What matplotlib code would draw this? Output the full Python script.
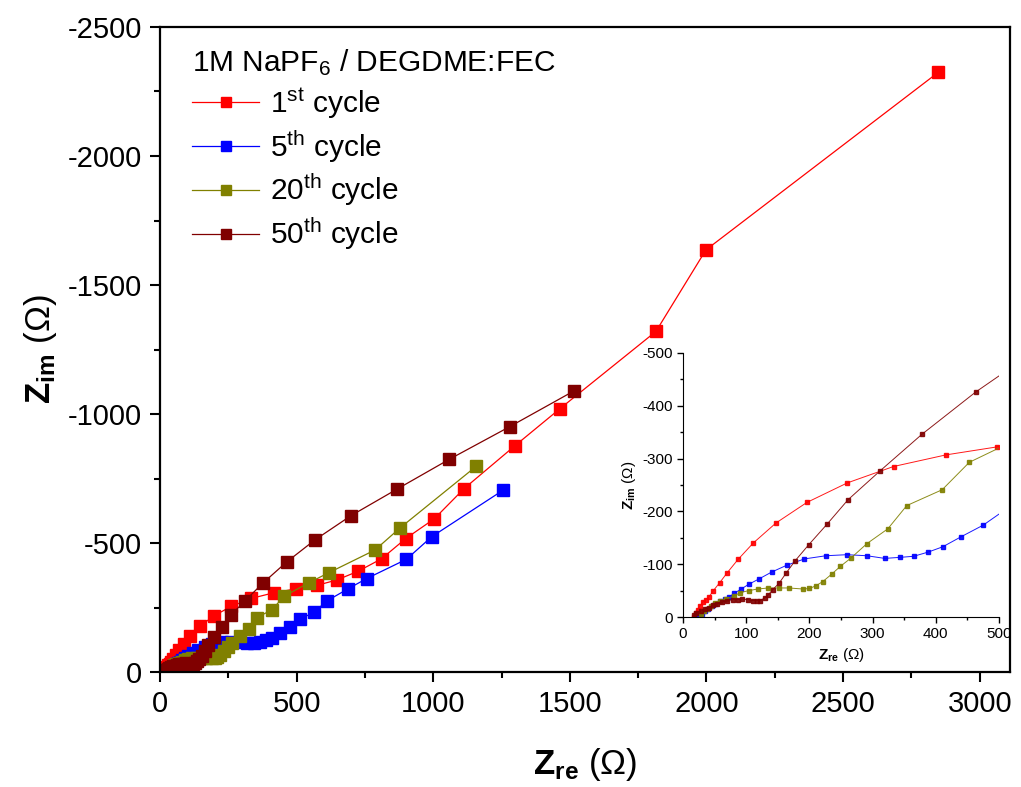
import numpy as np
import matplotlib
matplotlib.use("Agg")
import matplotlib.pyplot as plt
from matplotlib.ticker import MultipleLocator

plt.rcParams['font.family'] = ['Liberation Sans', 'DejaVu Sans']
plt.rcParams['mathtext.fontset'] = 'custom'
plt.rcParams['mathtext.rm'] = 'Liberation Sans'
plt.rcParams['mathtext.bf'] = 'Liberation Sans:bold'
plt.rcParams['mathtext.it'] = 'Liberation Sans:italic'
plt.rcParams['axes.unicode_minus'] = False

# Nyquist data (Z_re, -Z_im in ohm)
red_re = [17, 20, 23, 27, 31, 36, 41, 48, 58, 70, 87, 111, 147, 196, 260, 333, 416, 496,
          575, 648, 726, 811, 899, 1004, 1113, 1299, 1463, 1815, 1998, 2848]
red_im = [0, 7, 14, 21, 28, 33, 38, 50, 65, 84, 109, 140, 178, 217, 254, 285, 307, 322,
          336, 357, 391, 439, 517, 594, 711, 877, 1020, 1320, 1636, 2324]

blue_re = [25, 30, 35, 40, 46, 51, 58, 66, 73, 81, 92, 104, 120, 140, 164, 192, 226, 259,
           291, 319, 344, 365, 388, 411, 440, 475, 512, 563, 610, 689, 756, 902, 994, 1256]
blue_im = [2, 6, 11, 15, 20, 25, 30, 35, 38, 45, 53, 62, 72, 85, 98, 110, 116, 118,
           116, 111, 113, 115, 123, 133, 152, 174, 205, 231, 275, 323, 362, 437, 524, 705]

olive_re = [28, 33, 38, 44, 50, 58, 68, 80, 90, 104, 118, 135, 152, 167, 190, 200, 210, 221,
            235, 249, 265, 291, 324, 354, 410, 453, 545, 618, 787, 878, 1158]
olive_im = [6, 11, 16, 21, 26, 31, 35, 39, 46, 50, 53, 55, 55, 55, 53, 54, 59, 67,
            81, 96, 111, 139, 167, 211, 241, 293, 346, 385, 473, 558, 798]

dred_re = [17, 21, 28, 34, 41, 47, 54, 61, 70, 79, 87, 94, 102, 110, 117, 122, 129, 135,
           142, 152, 163, 177, 199, 228, 261, 312, 378, 463, 567, 699, 866, 1058, 1280, 1516]
dred_im = [3, 8, 11, 15, 18, 22, 25, 28, 31, 33, 33, 34, 33, 31, 31, 31, 36, 42,
           52, 64, 83, 106, 137, 176, 222, 277, 346, 426, 512, 606, 708, 824, 951, 1090]

labels = [r'1$^{\mathrm{st}}$ cycle', r'5$^{\mathrm{th}}$ cycle',
          r'20$^{\mathrm{th}}$ cycle', r'50$^{\mathrm{th}}$ cycle']
colors = ['#ff0000', '#0000ff', '#808000', '#800000']
series = [(red_re, red_im), (blue_re, blue_im), (olive_re, olive_im), (dred_re, dred_im)]

fig = plt.figure(figsize=(10.21, 7.87), dpi=100)
ax = fig.add_axes([0.1567, 0.1461, 0.8323, 0.8196])

for (x, y), c, lab in zip(series, colors, labels):
    ax.plot(x, -np.array(y), '-s', color=c, lw=0.9, ms=9, mec=c, label=lab)

ax.set_xlim(0, 3110)
ax.set_ylim(0, -2500)
ax.xaxis.set_major_locator(MultipleLocator(500))
ax.xaxis.set_minor_locator(MultipleLocator(250))
ax.yaxis.set_major_locator(MultipleLocator(500))
ax.yaxis.set_minor_locator(MultipleLocator(250))
ax.tick_params(which='both', direction='out', width=1.5, labelsize=21, pad=6)
ax.tick_params(which='major', length=7)
ax.tick_params(which='minor', length=4)
for s in ax.spines.values():
    s.set_linewidth(1.6)
ax.set_xlabel(r'$\mathbf{Z}_{\mathbf{re}}$ ($\Omega$)', fontsize=25, labelpad=20)
ax.set_ylabel(r'$\mathbf{Z}_{\mathbf{im}}$ ($\Omega$)', fontsize=25, labelpad=6)

leg = ax.legend(loc='upper left', bbox_to_anchor=(0.038, 0.968), frameon=False,
                title=r'1M NaPF$_6$ / DEGDME:FEC', title_fontsize=21.5, fontsize=21.5,
                alignment='left', borderpad=0, handlelength=2.25, handletextpad=0.35,
                labelspacing=0.24, markerscale=0.78, borderaxespad=0)

# inset
ins = fig.add_axes([0.669, 0.2160, 0.3095, 0.3355])
ins.patch.set_alpha(0)
for (x, y), c in zip(series, colors):
    ins.plot(x, -np.array(y), '-s', color=c, lw=0.7, ms=3.2, mec=c, alpha=0.9)
ins.set_xlim(0, 500)
ins.set_ylim(0, -500)
ins.spines['top'].set_visible(False)
ins.spines['right'].set_visible(False)
ins.xaxis.set_major_locator(MultipleLocator(100))
ins.xaxis.set_minor_locator(MultipleLocator(50))
ins.yaxis.set_major_locator(MultipleLocator(100))
ins.yaxis.set_minor_locator(MultipleLocator(50))
ins.tick_params(which='both', direction='out', width=1, labelsize=11)
ins.tick_params(which='major', length=4)
ins.tick_params(which='minor', length=2.5)
ins.set_xlabel(r'$\mathbf{Z}_{\mathbf{re}}$ ($\Omega$)', fontsize=11, labelpad=3)
ins.set_ylabel(r'$\mathbf{Z}_{\mathbf{im}}$ ($\Omega$)', fontsize=11, labelpad=3)

fig.savefig('out.png', dpi=100)
